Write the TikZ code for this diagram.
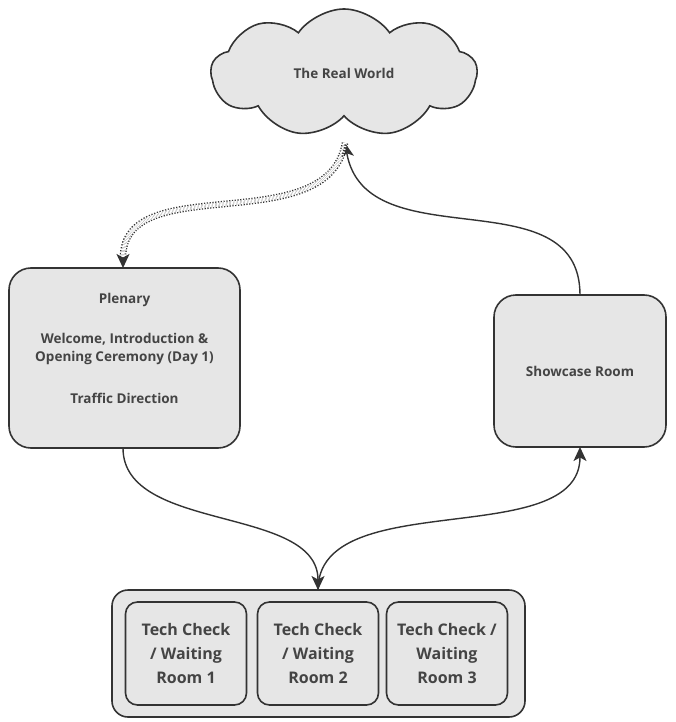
\documentclass[tikz,border=0pt]{standalone}
\usepackage{fontspec}
\setmainfont{Open Sans}
\usetikzlibrary{shapes.symbols,arrows.meta}
\definecolor{boxfill}{HTML}{E6E6E6}
\definecolor{linecol}{HTML}{333333}
\definecolor{txtcol}{HTML}{444444}
\tikzset{
  roomnode/.style={draw=linecol, fill=boxfill, line width=1.6pt, rounded corners=22pt, text=txtcol, align=center, font=\bfseries\fontsize{13.5}{18}\selectfont},
  roomtext/.style={text=txtcol, align=center, font=\bfseries\fontsize{13.5}{18}\selectfont},
  techbox/.style={draw=linecol, fill=boxfill, line width=1.6pt, rounded corners=12pt, text=txtcol, align=center, minimum width=121pt, minimum height=103pt, font=\bfseries\fontsize{16}{24}\selectfont},
  conn/.style={draw=linecol, line width=1.4pt, -{Stealth[length=14pt,width=13pt,inset=3.5pt]}},
  dotconn/.style={draw=linecol, line width=1.3pt, double=white, double distance=4pt, dash pattern=on 1.2pt off 1.6pt, -{Stealth[length=14pt,width=13pt,inset=3.5pt]}}
}
\begin{document}
\begin{tikzpicture}[x=1pt,y=-1pt]
\useasboundingbox (0,0) rectangle (675,722);
\node[cloud, cloud puffs=9, cloud puff arc=110, aspect=2.1, draw=linecol, fill=boxfill, line width=1.6pt, minimum width=266pt, minimum height=128pt, text=txtcol, font=\bfseries\fontsize{13.5}{16}\selectfont] (cloud) at (344,73) {The Real World};
\node[roomnode, minimum width=231pt, minimum height=180pt] (plen) at (124.5,358) {};
\node[roomtext] (plentext) at (124.5,348) {Plenary\\[22pt]Welcome, Introduction \&\\Opening Ceremony (Day 1)\\[24pt]Traffic Direction};
\node[roomnode, minimum width=172pt, minimum height=152pt] (show) at (580,371) {Showcase Room};
\node[draw=linecol, fill=boxfill, line width=1.6pt, rounded corners=16pt, minimum width=413pt, minimum height=127pt] (cont) at (318.5,653.5) {};
\node[techbox] (t1) at (186,653.5) {Tech Check\\/ Waiting\\Room 1};
\node[techbox] (t2) at (318,653.5) {Tech Check\\/ Waiting\\Room 2};
\node[techbox] (t3) at (447,653.5) {Tech Check /\\Waiting\\Room 3};
\coordinate (cw) at (345,143);
\coordinate (plentop) at (123,268);
\coordinate (plenbot) at (123,448);
\coordinate (showtop) at (580,295);
\coordinate (showbot) at (580,447);
\coordinate (conttop) at (318,590);
\draw[conn] (showtop) to[out=90,in=-80,looseness=1.1] (cw);
\draw[dotconn] (cw) to[out=-100,in=90,looseness=1.0] (plentop);
\draw[conn] (plenbot) to[out=-90,in=90,looseness=0.9] (conttop);
\draw[conn] (conttop) to[out=90,in=-90,looseness=0.9] (showbot);
\end{tikzpicture}
\end{document}
